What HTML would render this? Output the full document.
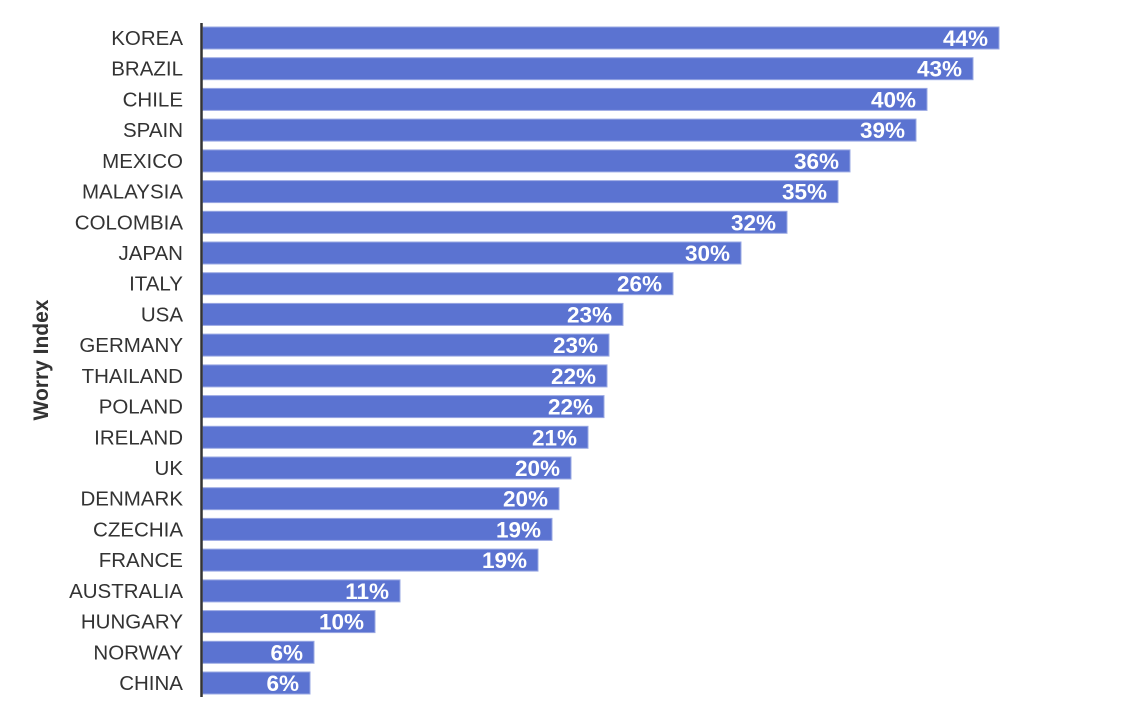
<!DOCTYPE html>
<html><head><meta charset="utf-8"><style>
html,body{margin:0;padding:0;background:#fff;}
text{font-family:"Liberation Sans",Arial,sans-serif;}
.l{font-size:20.5px;fill:#333;text-anchor:end;}
.v{font-size:22.5px;font-weight:bold;fill:#fff;text-anchor:end;}
rect{fill:#5b73d1;stroke:#9aa8e3;stroke-width:1;}
</style></head><body>
<svg width="1133" height="721" xmlns="http://www.w3.org/2000/svg">
<rect x="202.5" y="27" width="796.5" height="22"/><text class="l" x="183" y="45">KOREA</text><text class="v" x="988" y="46">44%</text>
<rect x="202.5" y="57.7" width="770.5" height="22"/><text class="l" x="183" y="75.7">BRAZIL</text><text class="v" x="962" y="76.7">43%</text>
<rect x="202.5" y="88.4" width="724.5" height="22"/><text class="l" x="183" y="106.4">CHILE</text><text class="v" x="916" y="107.4">40%</text>
<rect x="202.5" y="119.1" width="713.5" height="22"/><text class="l" x="183" y="137.1">SPAIN</text><text class="v" x="905" y="138.1">39%</text>
<rect x="202.5" y="149.9" width="647.5" height="22"/><text class="l" x="183" y="167.9">MEXICO</text><text class="v" x="839" y="168.9">36%</text>
<rect x="202.5" y="180.6" width="635.5" height="22"/><text class="l" x="183" y="198.6">MALAYSIA</text><text class="v" x="827" y="199.6">35%</text>
<rect x="202.5" y="211.3" width="584.5" height="22"/><text class="l" x="183" y="229.3">COLOMBIA</text><text class="v" x="776" y="230.3">32%</text>
<rect x="202.5" y="242" width="538.5" height="22"/><text class="l" x="183" y="260">JAPAN</text><text class="v" x="730" y="261">30%</text>
<rect x="202.5" y="272.7" width="470.5" height="22"/><text class="l" x="183" y="290.7">ITALY</text><text class="v" x="662" y="291.7">26%</text>
<rect x="202.5" y="303.4" width="420.5" height="22"/><text class="l" x="183" y="321.4">USA</text><text class="v" x="612" y="322.4">23%</text>
<rect x="202.5" y="334.1" width="406.5" height="22"/><text class="l" x="183" y="352.1">GERMANY</text><text class="v" x="598" y="353.1">23%</text>
<rect x="202.5" y="364.9" width="404.5" height="22"/><text class="l" x="183" y="382.9">THAILAND</text><text class="v" x="596" y="383.9">22%</text>
<rect x="202.5" y="395.6" width="401.5" height="22"/><text class="l" x="183" y="413.6">POLAND</text><text class="v" x="593" y="414.6">22%</text>
<rect x="202.5" y="426.3" width="385.5" height="22"/><text class="l" x="183" y="444.3">IRELAND</text><text class="v" x="577" y="445.3">21%</text>
<rect x="202.5" y="457" width="368.5" height="22"/><text class="l" x="183" y="475">UK</text><text class="v" x="560" y="476">20%</text>
<rect x="202.5" y="487.7" width="356.5" height="22"/><text class="l" x="183" y="505.7">DENMARK</text><text class="v" x="548" y="506.7">20%</text>
<rect x="202.5" y="518.4" width="349.5" height="22"/><text class="l" x="183" y="536.4">CZECHIA</text><text class="v" x="541" y="537.4">19%</text>
<rect x="202.5" y="549.1" width="335.5" height="22"/><text class="l" x="183" y="567.1">FRANCE</text><text class="v" x="527" y="568.1">19%</text>
<rect x="202.5" y="579.9" width="197.5" height="22"/><text class="l" x="183" y="597.9">AUSTRALIA</text><text class="v" x="389" y="598.9">11%</text>
<rect x="202.5" y="610.6" width="172.5" height="22"/><text class="l" x="183" y="628.6">HUNGARY</text><text class="v" x="364" y="629.6">10%</text>
<rect x="202.5" y="641.3" width="111.5" height="22"/><text class="l" x="183" y="659.3">NORWAY</text><text class="v" x="303" y="660.3">6%</text>
<rect x="202.5" y="672" width="107.5" height="22"/><text class="l" x="183" y="690">CHINA</text><text class="v" x="299" y="691">6%</text>
<line x1="201.5" y1="23" x2="201.5" y2="697" stroke="#333" stroke-width="2.5"/>
<text transform="translate(48,360) rotate(-90)" text-anchor="middle" font-size="21" font-weight="bold" fill="#333">Worry Index</text>
</svg>
</body></html>
